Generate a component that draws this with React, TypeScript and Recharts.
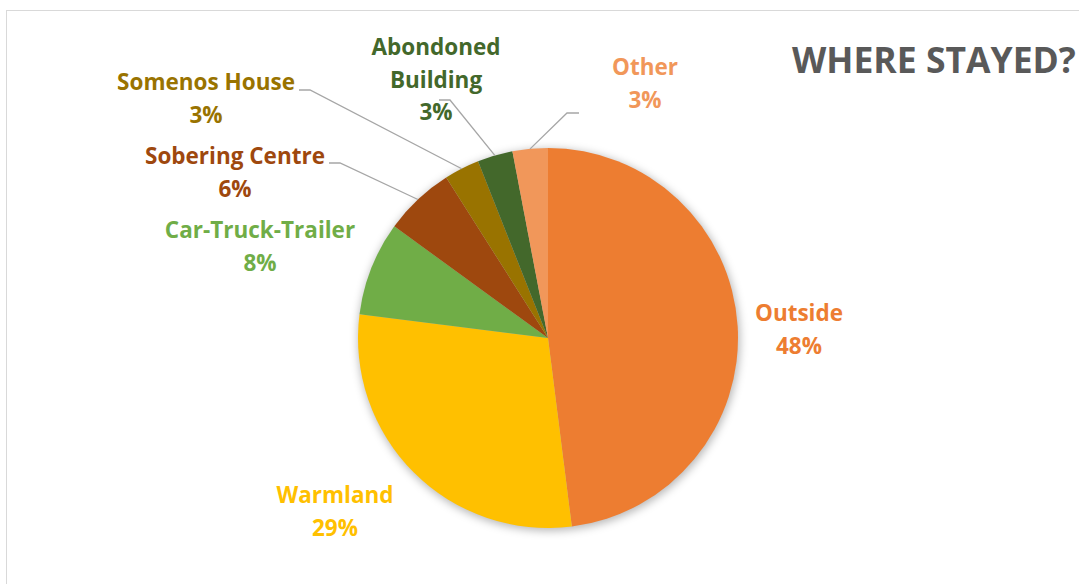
import React from 'react';
import { PieChart, Pie, Cell } from 'recharts';

// chart data
const places = ['Outside', 'Warmland', 'Car-Truck-Trailer', 'Sobering Centre', 'Somenos House', 'Abondoned Building', 'Other'];
const shares = [48, 29, 8, 6, 3, 3, 3];
const colors = ['#ED7D31', '#FFC000', '#70AD47', '#9E480E', '#997300', '#43682B', '#F1975A'];

// label layout (text lines, centre x, first baseline, optional leader line elbow/end)
const labelLines = [
    ['Outside'],
    ['Warmland'],
    ['Car-Truck-Trailer'],
    ['Sobering Centre'],
    ['Somenos House'],
    ['Abondoned', 'Building'],
    ['Other'],
];
const labelLayout = [
    { x: 799, y: 321, leader: null },
    { x: 335, y: 503, leader: null },
    { x: 260, y: 238, leader: null },
    { x: 235, y: 164, leader: [[340, 163], [329, 163]] },
    { x: 206, y: 90, leader: [[310, 90], [299, 90]] },
    { x: 436, y: 55, leader: [[450, 100], [439, 100]] },
    { x: 645, y: 75, leader: [[567, 113], [579, 113]] },
];

const data = places.map((name, i) => ({ name, value: shares[i] }));

const WIDTH = 1079;
const HEIGHT = 584;
const CX = 548;
const CY = 338;
const R = 190;
const RADIAN = Math.PI / 180;
const FONT = '"Open Sans", sans-serif';

const renderLabel = (props: any) => {
    const { cx, cy, midAngle, outerRadius, index } = props;
    const layout = labelLayout[index];
    const lines = [...labelLines[index], `${shares[index]}%`];
    const ex = cx + outerRadius * Math.cos(-midAngle * RADIAN);
    const ey = cy + outerRadius * Math.sin(-midAngle * RADIAN);
    return (
        <g key={`label-${index}`}>
            {layout.leader && (
                <polyline
                    points={`${ex},${ey} ${layout.leader[0][0]},${layout.leader[0][1]} ${layout.leader[1][0]},${layout.leader[1][1]}`}
                    fill="none"
                    stroke="#a6a6a6"
                    strokeWidth={1.3}
                />
            )}
            {lines.map((line, j) => (
                <text
                    key={j}
                    x={layout.x}
                    y={layout.y + j * 32.5}
                    textAnchor="middle"
                    fill={colors[index]}
                    fontFamily={FONT}
                    fontWeight={700}
                    fontSize={22.5}
                >
                    {line}
                </text>
            ))}
        </g>
    );
};

export default function App() {
    return (
        <div style={{ position: 'fixed', left: 0, top: 0, width: WIDTH, height: HEIGHT, overflow: 'hidden', background: '#fff' }}>
            <div style={{ position: 'absolute', left: 6, top: 10, width: 1200, height: 700, border: '1.5px solid #d9d9d9' }} />
            <div style={{ position: 'absolute', left: 0, top: 0 }}>
                <PieChart width={WIDTH} height={HEIGHT} margin={{ top: 0, right: 0, bottom: 0, left: 0 }}>
                    <defs>
                        <filter id="pieShadow" x="-20%" y="-20%" width="140%" height="140%">
                            <feGaussianBlur stdDeviation="4" />
                        </filter>
                    </defs>
                    <Pie
                        data={[{ name: 'shadow', value: 1 }]}
                        dataKey="value"
                        cx={CX + 1}
                        cy={CY + 2}
                        outerRadius={R + 1}
                        startAngle={90}
                        endAngle={-270}
                        stroke="none"
                        isAnimationActive={false}
                        legendType="none"
                    >
                        <Cell fill="rgba(0,0,0,0.28)" filter="url(#pieShadow)" />
                    </Pie>
                    <Pie
                        data={data}
                        dataKey="value"
                        nameKey="name"
                        cx={CX}
                        cy={CY}
                        outerRadius={R}
                        startAngle={90}
                        endAngle={-270}
                        stroke="none"
                        label={renderLabel}
                        labelLine={false}
                        isAnimationActive={false}
                    >
                        {data.map((entry, index) => (
                            <Cell key={`cell-${index}`} fill={colors[index]} />
                        ))}
                    </Pie>
                    <text x={792} y={73} fill="#595959" fontFamily={FONT} fontWeight={700} fontSize={35.5}>
                        WHERE STAYED?
                    </text>
                </PieChart>
            </div>
        </div>
    );
}
